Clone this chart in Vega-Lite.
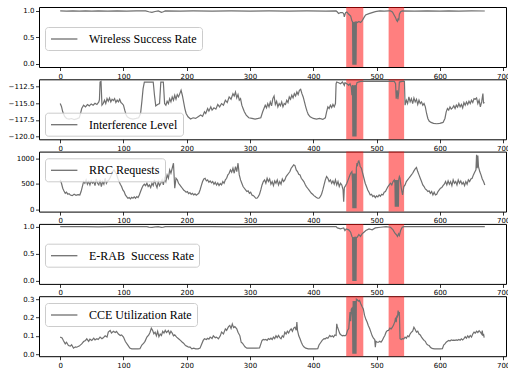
{
"$schema": "https://vega.github.io/schema/vega-lite/v6.json",
"padding": {"left": 7, "top": 6, "right": 0, "bottom": 0},
"autosize": {"type": "pad"},
"background": "white",
"config": {
 "view": {"stroke": "black", "strokeWidth": 1},
 "axis": {"labelFont": "DejaVu Sans", "labelFontSize": 7, "labelColor": "black", "tickColor": "black", "tickSize": 3.5, "tickWidth": 0.8, "labelPadding": 1.5, "domain": false, "grid": false, "labelFlush": false, "labelOverlap": false},
 "legend": {"labelFont": "Liberation Serif", "labelFontSize": 12, "labelColor": "black", "symbolType": "M-1,0H3.4", "symbolSize": 144, "symbolStrokeWidth": 1.3, "labelOffset": 25, "padding": 5, "fillColor": "rgba(255,255,255,0.8)", "strokeColor": "#cccccc", "cornerRadius": 3, "labelLimit": 400}
},
"datasets": {
 "bands": [{"a": 452, "b": 479}, {"a": 519, "b": 543.5}],
 "wsr": [{"t":0,"v":1.0},{"t":10,"v":0.998},{"t":20,"v":1.0},{"t":30,"v":0.995},{"t":40,"v":1.0},{"t":50,"v":0.997},{"t":60,"v":1.0},{"t":75,"v":0.996},{"t":90,"v":1.0},{"t":105,"v":0.997},{"t":120,"v":1.0},{"t":135,"v":1.0},{"t":140,"v":0.985},{"t":145,"v":0.975},{"t":150,"v":0.99},{"t":155,"v":1.0},{"t":160,"v":0.975},{"t":163,"v":0.985},{"t":166,"v":1.0},{"t":190,"v":0.998},{"t":210,"v":1.0},{"t":240,"v":0.996},{"t":270,"v":1.0},{"t":300,"v":0.997},{"t":330,"v":1.0},{"t":360,"v":0.998},{"t":390,"v":1.0},{"t":420,"v":0.997},{"t":436,"v":1.0},{"t":438,"v":0.98},{"t":440,"v":0.95},{"t":443,"v":0.97},{"t":446,"v":0.968},{"t":448,"v":0.95},{"t":449,"v":0.886},{"t":451,"v":0.968},{"t":453,"v":0.98},{"t":456,"v":0.937},{"t":459,"v":0.905},{"t":461,"v":0.81},{"t":462,"v":0.8},{"t":462.5,"v":-0.02},{"t":463,"v":0.78},{"t":463.5,"v":-0.02},{"t":464,"v":0.79},{"t":464.5,"v":-0.02},{"t":465,"v":0.78},{"t":465.5,"v":-0.02},{"t":466,"v":0.8},{"t":466.5,"v":-0.02},{"t":467,"v":0.78},{"t":467.5,"v":-0.02},{"t":468,"v":0.79},{"t":469.5,"v":0.78},{"t":472,"v":0.8},{"t":474.7,"v":0.78},{"t":477,"v":0.81},{"t":480,"v":0.873},{"t":482.6,"v":0.924},{"t":488,"v":0.95},{"t":493,"v":0.968},{"t":498,"v":0.987},{"t":505,"v":1.0},{"t":512,"v":0.995},{"t":519.5,"v":1.0},{"t":522,"v":1.0},{"t":525,"v":0.98},{"t":527,"v":0.937},{"t":530,"v":0.873},{"t":531.6,"v":0.82},{"t":533,"v":0.8},{"t":534,"v":0.86},{"t":535,"v":0.82},{"t":536,"v":0.937},{"t":538,"v":0.987},{"t":540.5,"v":1.0},{"t":560,"v":0.998},{"t":580,"v":1.0},{"t":600,"v":0.996},{"t":614,"v":1.0},{"t":630,"v":0.997},{"t":650,"v":1.0},{"t":671,"v":0.999}],
 "erab": [{"t":0,"v":1.0},{"t":20,"v":0.998},{"t":40,"v":1.0},{"t":60,"v":0.997},{"t":80,"v":1.0},{"t":100,"v":0.998},{"t":120,"v":1.0},{"t":137,"v":1.0},{"t":140,"v":0.99},{"t":145,"v":0.985},{"t":150,"v":0.995},{"t":155,"v":1.0},{"t":160,"v":0.985},{"t":163,"v":0.992},{"t":166,"v":1.0},{"t":200,"v":0.998},{"t":240,"v":1.0},{"t":280,"v":0.997},{"t":320,"v":1.0},{"t":360,"v":0.998},{"t":400,"v":1.0},{"t":436,"v":1.0},{"t":438,"v":0.976},{"t":443,"v":0.958},{"t":446,"v":0.97},{"t":448,"v":0.976},{"t":450,"v":0.927},{"t":452,"v":0.958},{"t":456,"v":0.94},{"t":459,"v":0.897},{"t":461,"v":0.818},{"t":462,"v":0.8},{"t":462.5,"v":0.0},{"t":463,"v":0.8},{"t":463.5,"v":0.0},{"t":464,"v":0.81},{"t":464.5,"v":0.0},{"t":465,"v":0.8},{"t":465.5,"v":0.0},{"t":466,"v":0.82},{"t":466.5,"v":0.0},{"t":467,"v":0.8},{"t":467.5,"v":0.0},{"t":468,"v":0.8},{"t":469.5,"v":0.806},{"t":472,"v":0.855},{"t":474.5,"v":0.818},{"t":477,"v":0.867},{"t":480,"v":0.897},{"t":483,"v":0.927},{"t":488,"v":0.958},{"t":493,"v":0.94},{"t":498,"v":0.976},{"t":506,"v":0.988},{"t":515,"v":1.0},{"t":522,"v":0.988},{"t":526,"v":0.94},{"t":529,"v":0.879},{"t":531,"v":0.855},{"t":533,"v":0.818},{"t":534.7,"v":0.867},{"t":536,"v":0.836},{"t":538,"v":0.927},{"t":540.5,"v":0.988},{"t":543,"v":1.0},{"t":580,"v":0.998},{"t":620,"v":1.0},{"t":650,"v":0.998},{"t":671,"v":1.0}],
 "intf": [{"t":0,"v":-115.07},{"t":2,"v":-115.5},{"t":4,"v":-116.3},{"t":7,"v":-117.0},{"t":10,"v":-117.3},{"t":14,"v":-117.4},{"t":18,"v":-117.3},{"t":22,"v":-117.45},{"t":26,"v":-117.35},{"t":30,"v":-117.2},{"t":32,"v":-116.6},{"t":34,"v":-115.81},{"t":37,"v":-115.31},{"t":40,"v":-115.56},{"t":43,"v":-115.21},{"t":46,"v":-115.41},{"t":49,"v":-115.12},{"t":52,"v":-115.31},{"t":55,"v":-115.02},{"t":58,"v":-115.21},{"t":61,"v":-114.82},{"t":62,"v":-114.5},{"t":63,"v":-111.86},{"t":64.5,"v":-111.76},{"t":66,"v":-115.31},{"t":68,"v":-115.07},{"t":70,"v":-114.57},{"t":72,"v":-115.07},{"t":74,"v":-114.33},{"t":76,"v":-114.72},{"t":78,"v":-114.23},{"t":80,"v":-114.82},{"t":82,"v":-114.42},{"t":84,"v":-114.62},{"t":86,"v":-114.33},{"t":88,"v":-114.92},{"t":90,"v":-114.57},{"t":92,"v":-114.82},{"t":94,"v":-114.42},{"t":96,"v":-114.92},{"t":98,"v":-115.07},{"t":100,"v":-115.31},{"t":102,"v":-116.05},{"t":104,"v":-116.69},{"t":106,"v":-117.04},{"t":110,"v":-117.29},{"t":115,"v":-117.38},{"t":120,"v":-117.29},{"t":124,"v":-117.19},{"t":127,"v":-116.55},{"t":129,"v":-114.82},{"t":131,"v":-112.85},{"t":133,"v":-111.86},{"t":140,"v":-111.86},{"t":147,"v":-111.86},{"t":149,"v":-113.83},{"t":151,"v":-115.41},{"t":154,"v":-115.21},{"t":157,"v":-115.07},{"t":159,"v":-111.86},{"t":163,"v":-111.86},{"t":165,"v":-115.07},{"t":167,"v":-115.31},{"t":169,"v":-114.72},{"t":171,"v":-115.07},{"t":173,"v":-114.33},{"t":175,"v":-114.82},{"t":177,"v":-114.08},{"t":179,"v":-114.57},{"t":181,"v":-113.83},{"t":183,"v":-114.42},{"t":185,"v":-113.73},{"t":187,"v":-114.08},{"t":189,"v":-113.59},{"t":191,"v":-113.09},{"t":193,"v":-113.83},{"t":195,"v":-114.82},{"t":197,"v":-115.81},{"t":199,"v":-116.55},{"t":202,"v":-117.04},{"t":206,"v":-117.38},{"t":210,"v":-117.19},{"t":214,"v":-117.29},{"t":218,"v":-117.04},{"t":222,"v":-116.79},{"t":225,"v":-116.99},{"t":228,"v":-116.3},{"t":230,"v":-116.55},{"t":233,"v":-115.81},{"t":235,"v":-116.2},{"t":238,"v":-115.56},{"t":240,"v":-116.05},{"t":243,"v":-115.71},{"t":246,"v":-115.9},{"t":249,"v":-115.21},{"t":252,"v":-115.56},{"t":255,"v":-115.07},{"t":258,"v":-115.31},{"t":261,"v":-114.57},{"t":264,"v":-114.92},{"t":267,"v":-114.08},{"t":270,"v":-114.42},{"t":273,"v":-113.59},{"t":275,"v":-113.93},{"t":277,"v":-113.34},{"t":279,"v":-114.23},{"t":281,"v":-113.73},{"t":283,"v":-114.57},{"t":285,"v":-114.33},{"t":287,"v":-115.31},{"t":289,"v":-115.81},{"t":291,"v":-116.3},{"t":294,"v":-116.79},{"t":298,"v":-117.19},{"t":303,"v":-117.29},{"t":308,"v":-117.38},{"t":313,"v":-117.29},{"t":317,"v":-117.19},{"t":320,"v":-116.3},{"t":322,"v":-115.81},{"t":324,"v":-115.31},{"t":326,"v":-115.71},{"t":328,"v":-115.07},{"t":330,"v":-115.56},{"t":332,"v":-114.82},{"t":334,"v":-115.41},{"t":336,"v":-114.33},{"t":338,"v":-113.93},{"t":340,"v":-115.21},{"t":342,"v":-114.72},{"t":344,"v":-115.56},{"t":346,"v":-115.07},{"t":348,"v":-115.41},{"t":350,"v":-114.82},{"t":352,"v":-115.56},{"t":354,"v":-115.07},{"t":356,"v":-115.21},{"t":358,"v":-114.57},{"t":360,"v":-114.92},{"t":362,"v":-114.08},{"t":364,"v":-114.42},{"t":366,"v":-113.83},{"t":368,"v":-114.23},{"t":370,"v":-113.59},{"t":372,"v":-113.93},{"t":374,"v":-113.34},{"t":376,"v":-113.73},{"t":378,"v":-113.09},{"t":380,"v":-112.94},{"t":382,"v":-113.59},{"t":384,"v":-114.08},{"t":386,"v":-114.82},{"t":388,"v":-115.56},{"t":390,"v":-116.2},{"t":392,"v":-116.69},{"t":395,"v":-117.04},{"t":400,"v":-117.29},{"t":405,"v":-117.38},{"t":410,"v":-117.29},{"t":415,"v":-117.43},{"t":419,"v":-117.19},{"t":421,"v":-116.3},{"t":423,"v":-115.56},{"t":425,"v":-115.81},{"t":427,"v":-115.31},{"t":429,"v":-115.66},{"t":431,"v":-115.21},{"t":433,"v":-115.56},{"t":435,"v":-115.07},{"t":436,"v":-112.11},{"t":437,"v":-111.86},{"t":440,"v":-111.96},{"t":443,"v":-112.11},{"t":446,"v":-111.86},{"t":449,"v":-112.35},{"t":450,"v":-111.96},{"t":453,"v":-112.11},{"t":456,"v":-112.35},{"t":458,"v":-112.11},{"t":460,"v":-112.6},{"t":461,"v":-113.83},{"t":462,"v":-112.3},{"t":462.5,"v":-120.0},{"t":463,"v":-112.4},{"t":463.5,"v":-120.0},{"t":464,"v":-112.35},{"t":464.5,"v":-120.0},{"t":465,"v":-112.5},{"t":465.5,"v":-120.0},{"t":466,"v":-112.3},{"t":466.5,"v":-120.0},{"t":467,"v":-112.4},{"t":467.5,"v":-120.0},{"t":468,"v":-112.35},{"t":469,"v":-111.96},{"t":471,"v":-111.86},{"t":475,"v":-111.76},{"t":500,"v":-111.76},{"t":528,"v":-111.76},{"t":530,"v":-112.11},{"t":531,"v":-114.33},{"t":532.6,"v":-113.09},{"t":533.7,"v":-114.42},{"t":535,"v":-113.34},{"t":536,"v":-111.86},{"t":540,"v":-111.76},{"t":544,"v":-111.76},{"t":545,"v":-115.31},{"t":547,"v":-114.57},{"t":549,"v":-115.07},{"t":551,"v":-114.08},{"t":553,"v":-114.82},{"t":555,"v":-114.33},{"t":557,"v":-115.07},{"t":559,"v":-114.23},{"t":561,"v":-114.82},{"t":563,"v":-114.42},{"t":565,"v":-115.21},{"t":567,"v":-114.57},{"t":569,"v":-115.07},{"t":571,"v":-114.82},{"t":573,"v":-115.31},{"t":575,"v":-115.07},{"t":577,"v":-115.56},{"t":579,"v":-116.55},{"t":581,"v":-117.29},{"t":583,"v":-117.68},{"t":586,"v":-117.88},{"t":590,"v":-118.03},{"t":595,"v":-118.08},{"t":600,"v":-118.03},{"t":605,"v":-117.88},{"t":608,"v":-117.29},{"t":610,"v":-116.3},{"t":612,"v":-115.81},{"t":614,"v":-116.05},{"t":616,"v":-115.56},{"t":618,"v":-115.9},{"t":620,"v":-115.71},{"t":622,"v":-115.41},{"t":624,"v":-115.81},{"t":626,"v":-115.31},{"t":628,"v":-115.61},{"t":630,"v":-115.07},{"t":632,"v":-115.56},{"t":634,"v":-115.21},{"t":636,"v":-115.71},{"t":638,"v":-114.92},{"t":640,"v":-115.31},{"t":642,"v":-114.82},{"t":644,"v":-115.21},{"t":646,"v":-114.72},{"t":648,"v":-115.07},{"t":650,"v":-114.57},{"t":652,"v":-114.92},{"t":654,"v":-114.33},{"t":656,"v":-114.42},{"t":658,"v":-114.23},{"t":660,"v":-115.07},{"t":662,"v":-114.57},{"t":664,"v":-115.56},{"t":666,"v":-114.82},{"t":668,"v":-113.59},{"t":669,"v":-115.07},{"t":670,"v":-114.82}],
 "rrc": [{"t":0,"v":576},{"t":2,"v":510},{"t":4,"v":412},{"t":6,"v":360},{"t":8,"v":314},{"t":10,"v":334},{"t":12,"v":294},{"t":14,"v":307},{"t":16,"v":281},{"t":19,"v":268},{"t":22,"v":294},{"t":25,"v":275},{"t":28,"v":288},{"t":31,"v":281},{"t":33,"v":347},{"t":35,"v":445},{"t":37,"v":543},{"t":39,"v":510},{"t":41,"v":576},{"t":43,"v":491},{"t":45,"v":543},{"t":47,"v":477},{"t":49,"v":556},{"t":51,"v":510},{"t":53,"v":543},{"t":55,"v":464},{"t":57,"v":595},{"t":59,"v":510},{"t":61,"v":477},{"t":63,"v":576},{"t":65,"v":445},{"t":67,"v":543},{"t":69,"v":491},{"t":71,"v":608},{"t":73,"v":510},{"t":75,"v":556},{"t":77,"v":576},{"t":79,"v":621},{"t":81,"v":674},{"t":83,"v":739},{"t":85,"v":772},{"t":87,"v":726},{"t":89,"v":687},{"t":91,"v":608},{"t":93,"v":543},{"t":95,"v":491},{"t":97,"v":445},{"t":99,"v":379},{"t":101,"v":347},{"t":103,"v":281},{"t":105,"v":249},{"t":107,"v":216},{"t":109,"v":229},{"t":111,"v":203},{"t":113,"v":235},{"t":115,"v":216},{"t":117,"v":242},{"t":119,"v":216},{"t":121,"v":249},{"t":123,"v":229},{"t":125,"v":281},{"t":127,"v":347},{"t":129,"v":412},{"t":131,"v":464},{"t":133,"v":491},{"t":135,"v":464},{"t":137,"v":510},{"t":139,"v":445},{"t":141,"v":477},{"t":143,"v":425},{"t":145,"v":510},{"t":147,"v":464},{"t":149,"v":576},{"t":151,"v":491},{"t":153,"v":425},{"t":155,"v":543},{"t":157,"v":464},{"t":159,"v":510},{"t":161,"v":576},{"t":163,"v":477},{"t":165,"v":608},{"t":167,"v":543},{"t":169,"v":674},{"t":171,"v":608},{"t":173,"v":772},{"t":175,"v":706},{"t":177,"v":804},{"t":179,"v":903},{"t":181,"v":412},{"t":183,"v":608},{"t":185,"v":576},{"t":187,"v":510},{"t":189,"v":477},{"t":191,"v":445},{"t":193,"v":412},{"t":195,"v":379},{"t":197,"v":360},{"t":199,"v":334},{"t":201,"v":347},{"t":203,"v":307},{"t":205,"v":327},{"t":207,"v":294},{"t":209,"v":314},{"t":211,"v":281},{"t":213,"v":301},{"t":215,"v":275},{"t":217,"v":294},{"t":219,"v":314},{"t":221,"v":379},{"t":223,"v":464},{"t":225,"v":543},{"t":227,"v":595},{"t":229,"v":608},{"t":231,"v":556},{"t":233,"v":576},{"t":235,"v":530},{"t":237,"v":556},{"t":239,"v":517},{"t":241,"v":543},{"t":243,"v":491},{"t":245,"v":530},{"t":247,"v":477},{"t":249,"v":517},{"t":251,"v":464},{"t":253,"v":504},{"t":255,"v":477},{"t":257,"v":543},{"t":259,"v":510},{"t":261,"v":576},{"t":263,"v":608},{"t":265,"v":674},{"t":267,"v":706},{"t":269,"v":772},{"t":271,"v":726},{"t":273,"v":804},{"t":275,"v":706},{"t":277,"v":837},{"t":279,"v":739},{"t":281,"v":903},{"t":283,"v":674},{"t":285,"v":576},{"t":287,"v":510},{"t":289,"v":445},{"t":291,"v":412},{"t":293,"v":379},{"t":295,"v":347},{"t":297,"v":360},{"t":299,"v":314},{"t":301,"v":334},{"t":303,"v":281},{"t":305,"v":268},{"t":307,"v":249},{"t":309,"v":216},{"t":311,"v":216},{"t":313,"v":249},{"t":315,"v":294},{"t":317,"v":379},{"t":319,"v":477},{"t":321,"v":543},{"t":323,"v":576},{"t":325,"v":510},{"t":327,"v":608},{"t":329,"v":543},{"t":331,"v":595},{"t":333,"v":491},{"t":335,"v":543},{"t":337,"v":464},{"t":339,"v":556},{"t":341,"v":510},{"t":343,"v":576},{"t":345,"v":477},{"t":347,"v":543},{"t":349,"v":491},{"t":351,"v":595},{"t":353,"v":543},{"t":355,"v":576},{"t":357,"v":641},{"t":359,"v":674},{"t":361,"v":706},{"t":363,"v":739},{"t":365,"v":804},{"t":367,"v":837},{"t":369,"v":870},{"t":371,"v":857},{"t":373,"v":772},{"t":375,"v":739},{"t":377,"v":687},{"t":379,"v":674},{"t":381,"v":608},{"t":383,"v":576},{"t":385,"v":543},{"t":387,"v":491},{"t":389,"v":445},{"t":391,"v":412},{"t":393,"v":379},{"t":395,"v":347},{"t":397,"v":314},{"t":399,"v":294},{"t":401,"v":268},{"t":403,"v":249},{"t":405,"v":229},{"t":407,"v":216},{"t":409,"v":216},{"t":411,"v":249},{"t":413,"v":294},{"t":415,"v":379},{"t":417,"v":477},{"t":419,"v":576},{"t":421,"v":641},{"t":423,"v":608},{"t":425,"v":543},{"t":427,"v":576},{"t":429,"v":510},{"t":431,"v":556},{"t":433,"v":491},{"t":435,"v":576},{"t":437,"v":477},{"t":439,"v":543},{"t":441,"v":445},{"t":443,"v":510},{"t":445,"v":477},{"t":447,"v":379},{"t":448,"v":150},{"t":449,"v":425},{"t":451,"v":464},{"t":453,"v":510},{"t":455,"v":576},{"t":457,"v":641},{"t":459,"v":706},{"t":461,"v":739},{"t":462,"v":543},{"t":462.5,"v":20},{"t":463,"v":700},{"t":463.5,"v":20},{"t":464,"v":690},{"t":464.5,"v":20},{"t":465,"v":700},{"t":465.5,"v":20},{"t":466,"v":680},{"t":466.5,"v":20},{"t":467,"v":700},{"t":467.5,"v":20},{"t":468,"v":804},{"t":469,"v":903},{"t":470,"v":870},{"t":471,"v":935},{"t":472,"v":948},{"t":473,"v":903},{"t":474,"v":837},{"t":476,"v":804},{"t":478,"v":706},{"t":480,"v":608},{"t":482,"v":510},{"t":484,"v":445},{"t":486,"v":379},{"t":488,"v":334},{"t":490,"v":281},{"t":492,"v":294},{"t":494,"v":249},{"t":496,"v":268},{"t":498,"v":229},{"t":500,"v":262},{"t":502,"v":242},{"t":504,"v":281},{"t":506,"v":255},{"t":508,"v":294},{"t":510,"v":281},{"t":512,"v":334},{"t":514,"v":347},{"t":516,"v":399},{"t":518,"v":445},{"t":520,"v":477},{"t":522,"v":510},{"t":524,"v":477},{"t":526,"v":543},{"t":528,"v":576},{"t":529,"v":510},{"t":529.5,"v":52},{"t":530,"v":576},{"t":530.5,"v":52},{"t":531,"v":560},{"t":531.5,"v":52},{"t":532,"v":576},{"t":532.5,"v":52},{"t":533,"v":560},{"t":533.5,"v":52},{"t":534,"v":576},{"t":534.5,"v":52},{"t":535,"v":580},{"t":536,"v":641},{"t":537,"v":608},{"t":539,"v":412},{"t":541,"v":281},{"t":543,"v":445},{"t":545,"v":477},{"t":547,"v":543},{"t":549,"v":576},{"t":551,"v":608},{"t":553,"v":641},{"t":555,"v":674},{"t":557,"v":706},{"t":559,"v":752},{"t":561,"v":791},{"t":563,"v":818},{"t":565,"v":739},{"t":567,"v":674},{"t":569,"v":608},{"t":571,"v":543},{"t":573,"v":477},{"t":575,"v":445},{"t":577,"v":399},{"t":579,"v":379},{"t":581,"v":347},{"t":583,"v":360},{"t":585,"v":314},{"t":587,"v":347},{"t":589,"v":281},{"t":591,"v":334},{"t":593,"v":281},{"t":595,"v":294},{"t":597,"v":347},{"t":599,"v":379},{"t":601,"v":412},{"t":603,"v":425},{"t":605,"v":464},{"t":607,"v":491},{"t":609,"v":543},{"t":611,"v":477},{"t":613,"v":556},{"t":615,"v":491},{"t":617,"v":543},{"t":619,"v":464},{"t":621,"v":576},{"t":623,"v":510},{"t":625,"v":543},{"t":627,"v":477},{"t":629,"v":576},{"t":631,"v":510},{"t":633,"v":556},{"t":635,"v":491},{"t":637,"v":530},{"t":639,"v":464},{"t":641,"v":543},{"t":643,"v":491},{"t":645,"v":576},{"t":647,"v":543},{"t":649,"v":595},{"t":651,"v":608},{"t":653,"v":674},{"t":655,"v":726},{"t":657,"v":772},{"t":658,"v":1066},{"t":659,"v":804},{"t":660,"v":1053},{"t":661,"v":837},{"t":663,"v":739},{"t":665,"v":674},{"t":667,"v":595},{"t":669,"v":543},{"t":671,"v":477}],
 "cce": [{"t":0,"v":0.093},{"t":3,"v":0.089},{"t":5,"v":0.075},{"t":8,"v":0.056},{"t":10,"v":0.065},{"t":13,"v":0.047},{"t":16,"v":0.044},{"t":18,"v":0.051},{"t":21,"v":0.033},{"t":24,"v":0.04},{"t":26,"v":0.038},{"t":30,"v":0.044},{"t":34,"v":0.056},{"t":37,"v":0.069},{"t":40,"v":0.075},{"t":42,"v":0.084},{"t":45,"v":0.07},{"t":47,"v":0.082},{"t":50,"v":0.075},{"t":53,"v":0.087},{"t":55,"v":0.078},{"t":58,"v":0.084},{"t":60,"v":0.08},{"t":63,"v":0.093},{"t":66,"v":0.084},{"t":68,"v":0.089},{"t":71,"v":0.1},{"t":74,"v":0.093},{"t":76,"v":0.12},{"t":79,"v":0.129},{"t":81,"v":0.115},{"t":84,"v":0.125},{"t":87,"v":0.118},{"t":89,"v":0.124},{"t":92,"v":0.11},{"t":95,"v":0.102},{"t":97,"v":0.105},{"t":100,"v":0.093},{"t":103,"v":0.069},{"t":108,"v":0.044},{"t":110,"v":0.033},{"t":113,"v":0.029},{"t":118,"v":0.029},{"t":123,"v":0.029},{"t":126,"v":0.03},{"t":129,"v":0.05},{"t":132,"v":0.06},{"t":134,"v":0.07},{"t":137,"v":0.093},{"t":140,"v":0.105},{"t":142,"v":0.12},{"t":144,"v":0.142},{"t":146,"v":0.13},{"t":148,"v":0.111},{"t":150,"v":0.12},{"t":152,"v":0.1},{"t":154,"v":0.124},{"t":156,"v":0.095},{"t":158,"v":0.11},{"t":160,"v":0.102},{"t":162,"v":0.125},{"t":164,"v":0.115},{"t":166,"v":0.13},{"t":168,"v":0.118},{"t":171,"v":0.129},{"t":173,"v":0.11},{"t":175,"v":0.125},{"t":177,"v":0.115},{"t":179,"v":0.1},{"t":181,"v":0.105},{"t":184,"v":0.093},{"t":187,"v":0.084},{"t":190,"v":0.075},{"t":193,"v":0.065},{"t":195,"v":0.06},{"t":198,"v":0.047},{"t":200,"v":0.044},{"t":203,"v":0.038},{"t":205,"v":0.04},{"t":208,"v":0.029},{"t":211,"v":0.033},{"t":214,"v":0.029},{"t":218,"v":0.029},{"t":221,"v":0.033},{"t":223,"v":0.05},{"t":226,"v":0.075},{"t":228,"v":0.084},{"t":231,"v":0.08},{"t":233,"v":0.087},{"t":235,"v":0.082},{"t":237,"v":0.093},{"t":240,"v":0.085},{"t":242,"v":0.1},{"t":245,"v":0.09},{"t":247,"v":0.093},{"t":250,"v":0.084},{"t":253,"v":0.1},{"t":255,"v":0.12},{"t":258,"v":0.11},{"t":261,"v":0.138},{"t":263,"v":0.13},{"t":266,"v":0.15},{"t":268,"v":0.156},{"t":270,"v":0.14},{"t":272,"v":0.165},{"t":274,"v":0.145},{"t":276,"v":0.15},{"t":279,"v":0.138},{"t":281,"v":0.12},{"t":284,"v":0.1},{"t":286,"v":0.065},{"t":288,"v":0.06},{"t":290,"v":0.05},{"t":292,"v":0.04},{"t":295,"v":0.033},{"t":300,"v":0.033},{"t":305,"v":0.033},{"t":310,"v":0.033},{"t":315,"v":0.034},{"t":319,"v":0.075},{"t":321,"v":0.08},{"t":323,"v":0.078},{"t":325,"v":0.08},{"t":327,"v":0.075},{"t":329,"v":0.085},{"t":331,"v":0.08},{"t":333,"v":0.087},{"t":335,"v":0.08},{"t":337,"v":0.093},{"t":339,"v":0.085},{"t":341,"v":0.1},{"t":343,"v":0.09},{"t":345,"v":0.102},{"t":347,"v":0.09},{"t":349,"v":0.084},{"t":351,"v":0.1},{"t":353,"v":0.093},{"t":355,"v":0.12},{"t":357,"v":0.11},{"t":359,"v":0.125},{"t":361,"v":0.115},{"t":363,"v":0.13},{"t":365,"v":0.138},{"t":367,"v":0.125},{"t":369,"v":0.142},{"t":371,"v":0.147},{"t":373,"v":0.13},{"t":374,"v":0.175},{"t":375,"v":0.13},{"t":377,"v":0.1},{"t":379,"v":0.084},{"t":381,"v":0.065},{"t":383,"v":0.05},{"t":385,"v":0.04},{"t":388,"v":0.033},{"t":392,"v":0.029},{"t":396,"v":0.029},{"t":400,"v":0.029},{"t":404,"v":0.029},{"t":407,"v":0.03},{"t":409,"v":0.05},{"t":412,"v":0.065},{"t":414,"v":0.075},{"t":417,"v":0.085},{"t":419,"v":0.084},{"t":421,"v":0.09},{"t":423,"v":0.087},{"t":426,"v":0.102},{"t":428,"v":0.095},{"t":430,"v":0.1},{"t":432,"v":0.093},{"t":434,"v":0.105},{"t":436,"v":0.102},{"t":437,"v":0.165},{"t":438,"v":0.15},{"t":440,"v":0.13},{"t":442,"v":0.111},{"t":444,"v":0.105},{"t":446,"v":0.1},{"t":448,"v":0.102},{"t":450,"v":0.1},{"t":452,"v":0.105},{"t":454,"v":0.129},{"t":456,"v":0.14},{"t":458,"v":0.229},{"t":459,"v":0.18},{"t":460,"v":0.245},{"t":461,"v":0.25},{"t":462,"v":0.2},{"t":462.5,"v":0.002},{"t":463,"v":0.29},{"t":463.5,"v":0.002},{"t":464,"v":0.285},{"t":464.5,"v":0.002},{"t":465,"v":0.29},{"t":465.5,"v":0.002},{"t":466,"v":0.288},{"t":466.5,"v":0.002},{"t":467,"v":0.29},{"t":467.5,"v":0.002},{"t":468,"v":0.3},{"t":469,"v":0.298},{"t":471,"v":0.29},{"t":473,"v":0.293},{"t":475,"v":0.275},{"t":477,"v":0.26},{"t":479,"v":0.247},{"t":481,"v":0.211},{"t":483,"v":0.19},{"t":485,"v":0.175},{"t":487,"v":0.155},{"t":489,"v":0.14},{"t":491,"v":0.12},{"t":493,"v":0.1},{"t":495,"v":0.087},{"t":497,"v":0.08},{"t":498,"v":0.038},{"t":499,"v":0.07},{"t":501,"v":0.065},{"t":503,"v":0.065},{"t":505,"v":0.07},{"t":507,"v":0.065},{"t":509,"v":0.075},{"t":511,"v":0.09},{"t":513,"v":0.102},{"t":515,"v":0.12},{"t":517,"v":0.129},{"t":519,"v":0.13},{"t":521,"v":0.142},{"t":523,"v":0.138},{"t":525,"v":0.147},{"t":527,"v":0.16},{"t":529,"v":0.18},{"t":530,"v":0.2},{"t":531,"v":0.175},{"t":532,"v":0.21},{"t":533,"v":0.2},{"t":534,"v":0.238},{"t":535,"v":0.22},{"t":536,"v":0.23},{"t":537,"v":0.084},{"t":539,"v":0.08},{"t":541,"v":0.085},{"t":543,"v":0.084},{"t":545,"v":0.093},{"t":547,"v":0.087},{"t":549,"v":0.1},{"t":551,"v":0.095},{"t":553,"v":0.11},{"t":555,"v":0.12},{"t":557,"v":0.125},{"t":559,"v":0.147},{"t":561,"v":0.135},{"t":563,"v":0.12},{"t":565,"v":0.125},{"t":567,"v":0.11},{"t":569,"v":0.105},{"t":571,"v":0.093},{"t":573,"v":0.084},{"t":575,"v":0.075},{"t":577,"v":0.07},{"t":579,"v":0.056},{"t":581,"v":0.05},{"t":583,"v":0.047},{"t":585,"v":0.038},{"t":587,"v":0.033},{"t":589,"v":0.03},{"t":592,"v":0.029},{"t":596,"v":0.029},{"t":600,"v":0.029},{"t":604,"v":0.03},{"t":606,"v":0.05},{"t":608,"v":0.056},{"t":610,"v":0.065},{"t":612,"v":0.07},{"t":614,"v":0.075},{"t":616,"v":0.072},{"t":618,"v":0.078},{"t":620,"v":0.075},{"t":622,"v":0.077},{"t":624,"v":0.075},{"t":626,"v":0.078},{"t":628,"v":0.076},{"t":630,"v":0.08},{"t":632,"v":0.076},{"t":634,"v":0.084},{"t":636,"v":0.078},{"t":638,"v":0.085},{"t":640,"v":0.095},{"t":642,"v":0.087},{"t":644,"v":0.1},{"t":646,"v":0.09},{"t":648,"v":0.102},{"t":650,"v":0.093},{"t":652,"v":0.11},{"t":654,"v":0.12},{"t":656,"v":0.115},{"t":658,"v":0.125},{"t":660,"v":0.118},{"t":662,"v":0.128},{"t":664,"v":0.12},{"t":666,"v":0.11},{"t":667,"v":0.129},{"t":668,"v":0.1},{"t":669,"v":0.111},{"t":670,"v":0.09}]
},
"spacing": 12.3,
"bounds": "flush",
"resolve": {"scale": {"stroke": "independent", "y": "independent", "x": "independent"}, "legend": {"stroke": "independent"}},
"vconcat": [
 {"width": 467, "height": 60, "layer": [
  {"data": {"name": "bands"}, "mark": {"type": "rect", "color": "#ff0000", "opacity": 0.5}, "encoding": {"x": {"field": "a", "type": "quantitative", "scale": {"domain": [-33.5, 704.5], "nice": false, "zero": false}, "axis": {"title": null, "values": [0,100,200,300,400,500,600,700], "format": "d"}}, "x2": {"field": "b"}}},
  {"data": {"name": "wsr"}, "mark": {"type": "line", "strokeWidth": 1.2, "clip": true}, "encoding": {"x": {"field": "t", "type": "quantitative"}, "y": {"field": "v", "type": "quantitative", "scale": {"domain": [-0.064, 1.075], "nice": false, "zero": false}, "axis": {"title": null, "values": [0, 0.5, 1], "format": ".1f"}}, "stroke": {"datum": "Wireless Success Rate", "type": "nominal", "scale": {"range": ["#707070"]}, "legend": {"orient": "none", "legendX": 6, "legendY": 20, "title": null}}}}
 ]},
 {"width": 467, "height": 60, "layer": [
  {"data": {"name": "bands"}, "mark": {"type": "rect", "color": "#ff0000", "opacity": 0.5}, "encoding": {"x": {"field": "a", "type": "quantitative", "scale": {"domain": [-33.5, 704.5], "nice": false, "zero": false}, "axis": {"title": null, "values": [0,100,200,300,400,500,600,700], "format": "d"}}, "x2": {"field": "b"}}},
  {"data": {"name": "intf"}, "mark": {"type": "line", "strokeWidth": 1.2, "clip": true}, "encoding": {"x": {"field": "t", "type": "quantitative"}, "y": {"field": "v", "type": "quantitative", "scale": {"domain": [-120.4, -111.45], "nice": false, "zero": false}, "axis": {"title": null, "values": [-120, -117.5, -115, -112.5], "format": ".1f"}}, "stroke": {"datum": "Interference Level", "type": "nominal", "scale": {"range": ["#707070"]}, "legend": {"orient": "none", "legendX": 6, "legendY": 33.4, "title": null}}}}
 ]},
 {"width": 467, "height": 60, "layer": [
  {"data": {"name": "bands"}, "mark": {"type": "rect", "color": "#ff0000", "opacity": 0.5}, "encoding": {"x": {"field": "a", "type": "quantitative", "scale": {"domain": [-33.5, 704.5], "nice": false, "zero": false}, "axis": {"title": null, "values": [0,100,200,300,400,500,600,700], "format": "d"}}, "x2": {"field": "b"}}},
  {"data": {"name": "rrc"}, "mark": {"type": "line", "strokeWidth": 1.2, "clip": true}, "encoding": {"x": {"field": "t", "type": "quantitative"}, "y": {"field": "v", "type": "quantitative", "scale": {"domain": [-45, 1130], "nice": false, "zero": false}, "axis": {"title": null, "values": [0, 500, 1000], "format": "d"}}, "stroke": {"datum": "RRC Requests", "type": "nominal", "scale": {"range": ["#707070"]}, "legend": {"orient": "none", "legendX": 6, "legendY": 6.7, "title": null}}}}
 ]},
 {"width": 467, "height": 60, "layer": [
  {"data": {"name": "bands"}, "mark": {"type": "rect", "color": "#ff0000", "opacity": 0.5}, "encoding": {"x": {"field": "a", "type": "quantitative", "scale": {"domain": [-33.5, 704.5], "nice": false, "zero": false}, "axis": {"title": null, "values": [0,100,200,300,400,500,600,700], "format": "d"}}, "x2": {"field": "b"}}},
  {"data": {"name": "erab"}, "mark": {"type": "line", "strokeWidth": 1.2, "clip": true}, "encoding": {"x": {"field": "t", "type": "quantitative"}, "y": {"field": "v", "type": "quantitative", "scale": {"domain": [-0.055, 1.05], "nice": false, "zero": false}, "axis": {"title": null, "values": [0, 0.5, 1], "format": ".1f"}}, "stroke": {"datum": "E-RAB\u00a0 Success Rate", "type": "nominal", "scale": {"range": ["#707070"]}, "legend": {"orient": "none", "legendX": 6, "legendY": 19.8, "title": null}}}}
 ]},
 {"width": 467, "height": 60, "layer": [
  {"data": {"name": "bands"}, "mark": {"type": "rect", "color": "#ff0000", "opacity": 0.5}, "encoding": {"x": {"field": "a", "type": "quantitative", "scale": {"domain": [-33.5, 704.5], "nice": false, "zero": false}, "axis": {"title": null, "values": [0,100,200,300,400,500,600,700], "format": "d"}}, "x2": {"field": "b"}}},
  {"data": {"name": "cce"}, "mark": {"type": "line", "strokeWidth": 1.2, "clip": true}, "encoding": {"x": {"field": "t", "type": "quantitative"}, "y": {"field": "v", "type": "quantitative", "scale": {"domain": [-0.011, 0.316], "nice": false, "zero": false}, "axis": {"title": null, "values": [0, 0.1, 0.2, 0.3], "format": ".1f"}}, "stroke": {"datum": "CCE Utilization Rate", "type": "nominal", "scale": {"range": ["#707070"]}, "legend": {"orient": "none", "legendX": 6, "legendY": 6.8, "title": null}}}}
 ]}
]
}
